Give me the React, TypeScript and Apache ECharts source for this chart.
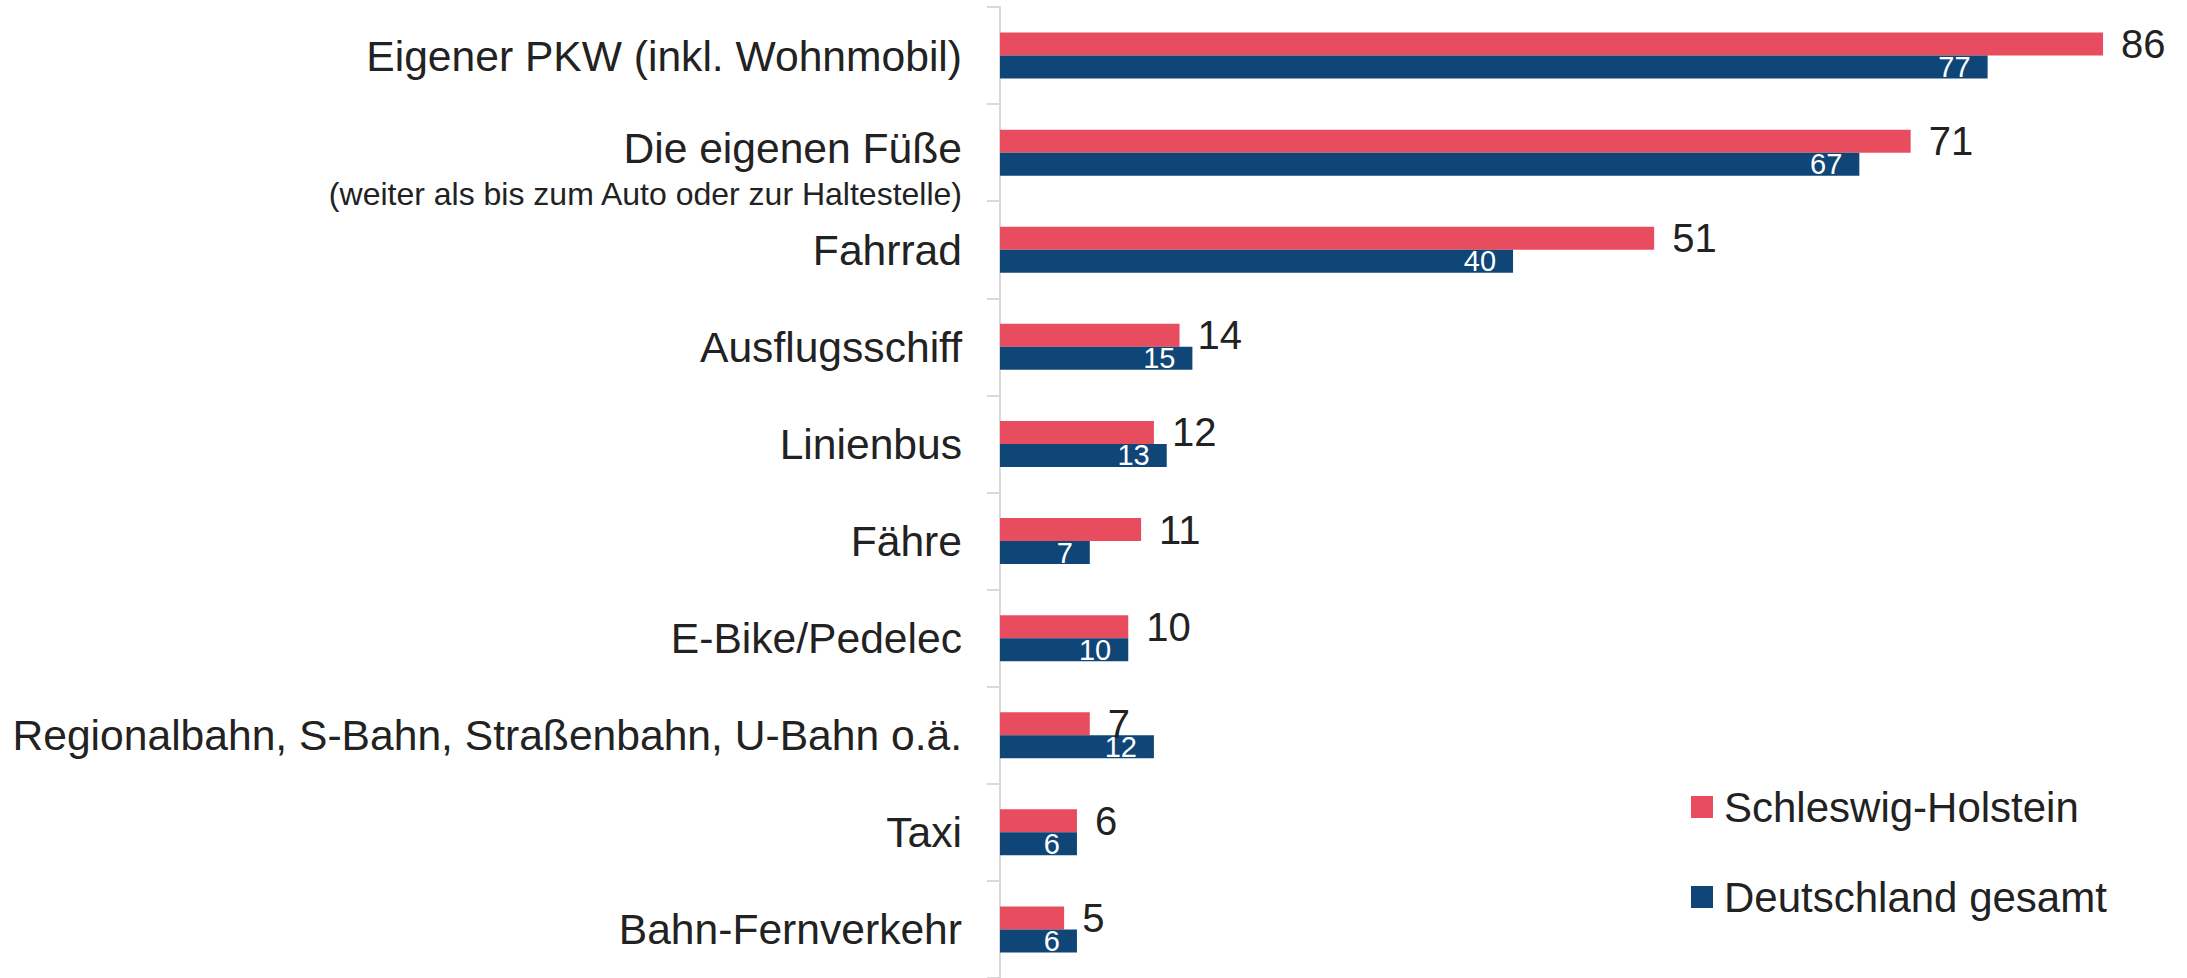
import React, { useEffect, useRef } from "react";
import * as echarts from "echarts";

const categories = [
  "Eigener PKW (inkl. Wohnmobil)",
  "Die eigenen Füße",
  "Fahrrad",
  "Ausflugsschiff",
  "Linienbus",
  "Fähre",
  "E-Bike/Pedelec",
  "Regionalbahn, S-Bahn, Straßenbahn, U-Bahn o.ä.",
  "Taxi",
  "Bahn-Fernverkehr",
];
const subtitle = "(weiter als bis zum Auto oder zur Haltestelle)";
const schleswigHolstein = [86, 71, 51, 14, 12, 11, 10, 7, 6, 5];
const deutschland = [77, 67, 40, 15, 13, 7, 10, 12, 6, 6];
const seriesNames = ["Schleswig-Holstein", "Deutschland gesamt"];

const FONT = "'Liberation Sans', Arial, Helvetica, sans-serif";
const RED = "#E84C5F";
const BLUE = "#104577";

export default function App() {
  const ref = useRef<HTMLDivElement>(null);
  useEffect(() => {
    if (!ref.current) return;
    const chart = echarts.init(ref.current, undefined, { renderer: "svg" });
    chart.setOption({
      animation: false,
      backgroundColor: "#fff",
      textStyle: { fontFamily: FONT },
      legend: {
        orient: "vertical",
        left: 1686,
        top: 781,
        icon: "rect",
        itemWidth: 22,
        itemHeight: 22,
        itemGap: 48,
        selectedMode: false,
        data: seriesNames,
        textStyle: {
          fontFamily: FONT,
          fontSize: 42,
          lineHeight: 42,
          color: "#222",
          padding: [0, 0, 0, 6],
        },
      },
      grid: { left: 1000, top: 7, width: 1180, height: 976, containLabel: false },
      xAxis: {
        type: "value",
        min: 0,
        max: 92,
        show: false,
        splitLine: { show: false },
      },
      yAxis: {
        type: "category",
        inverse: true,
        data: categories,
        axisLine: { show: true, lineStyle: { color: "#d9d9d9", width: 2 } },
        axisTick: { show: true, length: 13, lineStyle: { color: "#d9d9d9", width: 2 } },
        axisLabel: {
          margin: 38,
          fontFamily: FONT,
          fontSize: 42.6,
          color: "#222",
          formatter: (v: string) =>
            v === categories[1] ? `{s| }\n{a|${v}}\n{b|${subtitle}}` : v,
          rich: {
            s: { fontSize: 10, lineHeight: 36, fontFamily: FONT },
            a: { fontSize: 42.6, lineHeight: 46, fontFamily: FONT, color: "#222", align: "right" },
            b: { fontSize: 32, lineHeight: 46, fontFamily: FONT, color: "#222", align: "right" },
          },
        },
      },
      series: [
        {
          name: seriesNames[0],
          type: "bar",
          data: schleswigHolstein,
          barWidth: 23,
          barGap: "0%",
          itemStyle: { color: RED },
          label: {
            show: true,
            position: "right",
            distance: 18,
            fontFamily: FONT,
            fontSize: 40,
            color: "#222",
          },
        },
        {
          name: seriesNames[1],
          type: "bar",
          data: deutschland,
          barWidth: 23,
          barGap: "0%",
          itemStyle: { color: BLUE },
          label: {
            show: true,
            position: "insideRight",
            distance: 17,
            fontFamily: FONT,
            fontSize: 29,
            color: "#fff",
          },
        },
      ],
    });
    return () => chart.dispose();
  }, []);
  return (
    <div
      ref={ref}
      style={{ position: "fixed", left: 0, top: 0, width: 2187, height: 978 }}
    />
  );
}
